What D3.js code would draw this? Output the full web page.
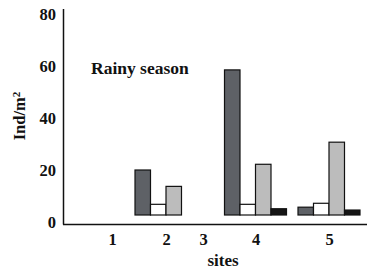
<!DOCTYPE html>
<html>
<head>
<meta charset="utf-8">
<script src="https://cdn.jsdelivr.net/npm/d3@7"></script>
<style>
  body { margin: 0; background: #fff; }
  svg text { font-family: "Times New Roman", Times, "Liberation Serif", "DejaVu Serif", serif !important; font-weight: bold; fill: #111; }
</style>
</head>
<body>
<div id="chart"></div>
<script>
// sites along the x axis, and the four series drawn per site
const sites = ["1", "2", "3", "4", "5"];
const series = ["s1", "s2", "s3", "s4"];
// Ind/m2 per site, one array per series (null = no bar)
const darkGrey  = [null, 20.0, null, 58.5, 5.7];
const whiteBar  = [null, 6.8,  null, 6.8,  7.2];
const lightGrey = [null, 13.7, null, 22.2, 30.7];
const blackBar  = [null, null, null, 5.1,  4.6];
const yTicks = [0, 20, 40, 60, 80];

const width = 377, height = 274;
const colors = d3.scaleOrdinal().domain(series).range(["#5e6166", "#ffffff", "#bcbcbc", "#151515"]);

const svg = d3.select("#chart").append("svg")
    .attr("width", width)
    .attr("height", height);

const y = d3.scaleLinear().domain([0, 80]).range([222, 14]);
// site centres are not evenly spaced in the original
const x = d3.scaleOrdinal().domain(sites).range([112, 166, 203, 255.5, 329]);
const inner = d3.scaleBand().domain(series).range([-31, 31]);
const baseY = y(0) - 7;

const values = [darkGrey, whiteBar, lightGrey, blackBar];
const bars = [];
sites.forEach((s, i) => {
    series.forEach((k, j) => {
        if (values[j][i] != null) bars.push({site: s, key: k, value: values[j][i]});
    });
});

svg.selectAll("rect.bar")
    .data(bars)
    .enter()
    .append("rect")
    .attr("class", "bar")
    .attr("x", d => x(d.site) + inner(d.key))
    .attr("y", d => y(d.value))
    .attr("width", inner.bandwidth())
    .attr("height", d => baseY - y(d.value))
    .attr("fill", d => colors(d.key))
    .attr("stroke", "#111")
    .attr("stroke-width", 1.2);

// axis frame
svg.append("line")
    .attr("x1", 63.5).attr("x2", 63.5)
    .attr("y1", 9).attr("y2", 224.5)
    .attr("stroke", "#111").attr("stroke-width", 1.5);
svg.append("line")
    .attr("x1", 63).attr("x2", 367)
    .attr("y1", 224.5).attr("y2", 224.5)
    .attr("stroke", "#111").attr("stroke-width", 1.5);

const yAxis = svg.append("g")
    .attr("transform", "translate(63,0)")
    .call(d3.axisLeft(y).tickValues(yTicks).tickSize(0).tickPadding(7));
yAxis.attr("font-family", null).attr("font-size", null);
yAxis.select(".domain").remove();
yAxis.selectAll("text")
    .style("font-size", "16.5px")
    .attr("fill", "#111");

const xAxis = svg.append("g")
    .attr("transform", "translate(0,230)")
    .call(d3.axisBottom(x).tickSize(0).tickPadding(3));
xAxis.attr("font-family", null).attr("font-size", null);
xAxis.select(".domain").remove();
xAxis.selectAll("text")
    .style("font-size", "16.5px")
    .attr("fill", "#111");

svg.append("text")
    .attr("x", 91)
    .attr("y", 74)
    .style("font-size", "17.5px")
    .text("Rainy season");

svg.append("text")
    .attr("x", 223)
    .attr("y", 266)
    .attr("text-anchor", "middle")
    .style("font-size", "17px")
    .text("sites");

const yl = svg.append("text")
    .attr("transform", "translate(25,116) rotate(-90)")
    .attr("text-anchor", "middle")
    .style("font-size", "16.5px");
yl.append("tspan").text("Ind/m");
yl.append("tspan").attr("dy", "-0.45em").style("font-size", "11px").text("2");
</script>
</body>
</html>
